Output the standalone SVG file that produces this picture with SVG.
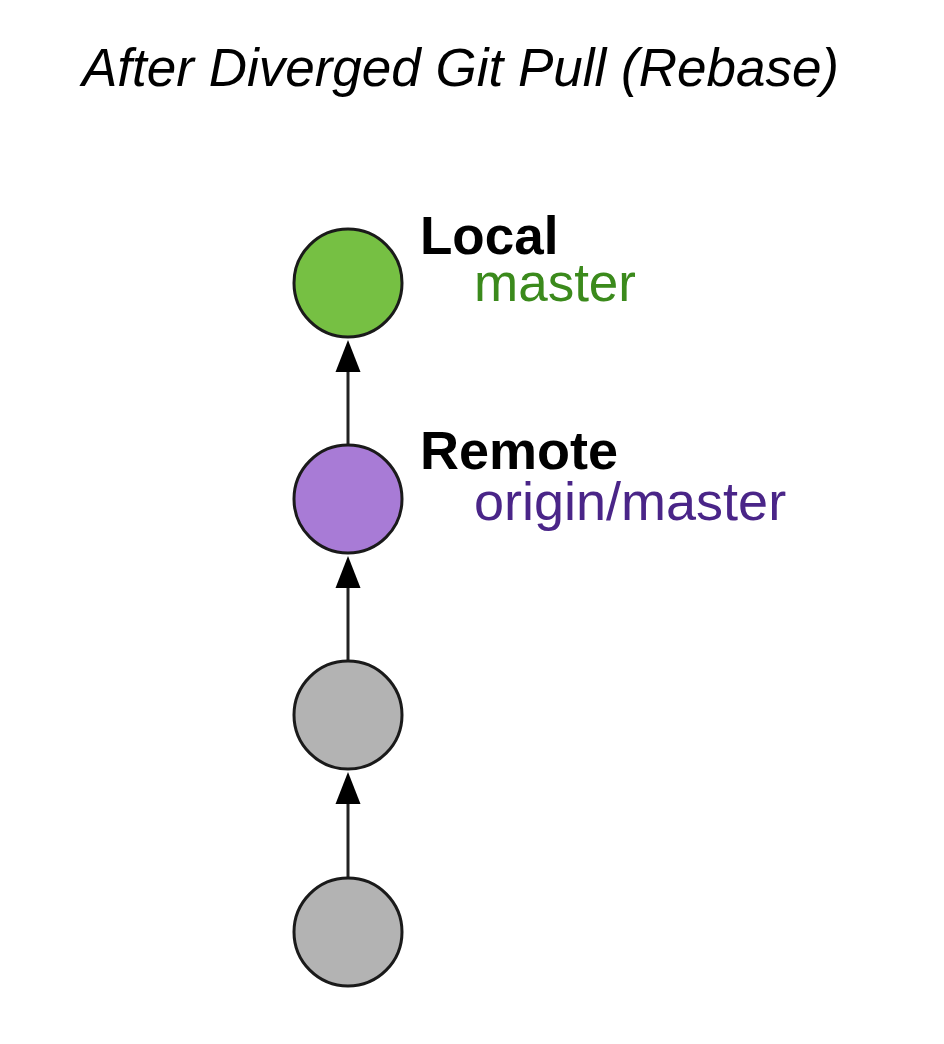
<svg xmlns="http://www.w3.org/2000/svg" width="944" height="1044" viewBox="0 0 944 1044">
<style>
.node{stroke:#1a1a1a;stroke-width:3}
.edge{stroke:#222;stroke-width:3;fill:none}
.lbl{font-family:"Liberation Sans",Arial,sans-serif;font-size:52px}
.b{font-weight:bold;fill:#000}
</style>
<rect width="944" height="1044" fill="#fff"/>
<text x="82" y="86" class="lbl" style="font-style:italic;font-size:53px" fill="#000">After Diverged Git Pull (Rebase)</text>
<g id="connectors">
<line class="edge" x1="348" y1="446" x2="348" y2="372"/>
<path d="M335.5,372 L348,340 L360.5,372 Z" fill="#000"/>
<line class="edge" x1="348" y1="660" x2="348" y2="588"/>
<path d="M335.5,588 L348,556 L360.5,588 Z" fill="#000"/>
<line class="edge" x1="348" y1="878" x2="348" y2="804"/>
<path d="M335.5,804 L348,772 L360.5,804 Z" fill="#000"/>
</g>
<g id="local">
<circle class="node" cx="348" cy="283" r="54" fill="#76c043"/>
<text x="420" y="254" class="lbl b" style="font-size:53px">Local</text>
<text x="474" y="301" class="lbl" style="font-size:53px" fill="#3b8a1c">master</text>
</g>
<g id="remote">
<circle class="node" cx="348" cy="499" r="54" fill="#a87bd6"/>
<text x="420" y="469" class="lbl b" style="font-size:54px">Remote</text>
<text x="474" y="520" class="lbl" style="font-size:54px" fill="#4a2588">origin/master</text>
</g>
<g id="c2">
<circle class="node" cx="348" cy="715" r="54" fill="#b3b3b3"/>
</g>
<g id="c1">
<circle class="node" cx="348" cy="932" r="54" fill="#b3b3b3"/>
</g>
</svg>
